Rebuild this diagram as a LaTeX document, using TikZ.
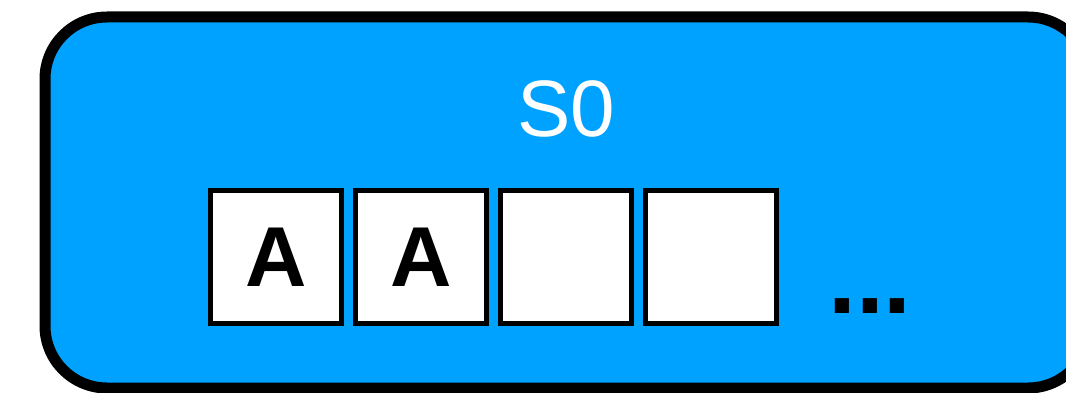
\documentclass[tikz,border=0pt]{standalone}
\usepackage{fontspec}
\setmainfont{Liberation Sans}
\definecolor{stateblue}{RGB}{0,162,255}
\tikzset{
  statebox/.style={draw=black, fill=stateblue, line width=11pt, rounded corners=62pt},
  cell/.style={draw=black, fill=white, line width=5pt, minimum width=131pt, minimum height=133pt, inner sep=0pt, font=\fontsize{85}{90}\selectfont\bfseries},
  title/.style={text=white, inner sep=0pt, font=\fontsize{80}{90}\selectfont},
  more/.style={inner sep=0pt, font=\fontsize{100}{100}\selectfont\bfseries}
}
\begin{document}
\begin{tikzpicture}[x=1pt,y=-1pt]
\useasboundingbox (0,0) rectangle (1066,393);
\clip (0,0) rectangle (1066,393);
\draw[statebox] (45,17) rectangle (1090,388);
\node[title] (s0) at (566,108.5) {S0};
\node[cell] (c1) at (276,257) {A};
\node[cell] (c2) at (421,257) {A};
\node[cell] (c3) at (566,257) {};
\node[cell] (c4) at (711,257) {};
\node[more, anchor=base] (dots) at (870,313) {...};
\end{tikzpicture}
\end{document}
